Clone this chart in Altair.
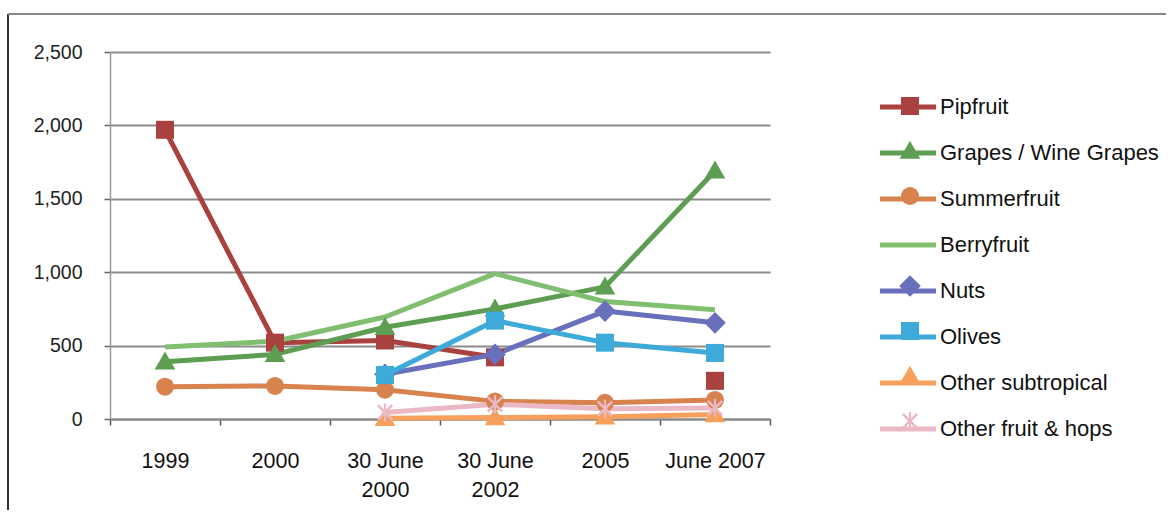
import altair as alt
import pandas as pd

# Survey dates along the x axis
CATEGORIES = ["1999", "2000", "30 June 2000", "30 June 2002", "2005", "June 2007"]

# Series (None = not surveyed)
SERIES = [
    "Pipfruit",
    "Grapes / Wine Grapes",
    "Summerfruit",
    "Berryfruit",
    "Nuts",
    "Olives",
    "Other subtropical",
    "Other fruit & hops",
]
pipfruit = [1970, 520, 535, 420, None, 260]
grapes = [390, 440, 625, 750, 900, 1690]
summerfruit = [220, 225, 200, 120, 110, 130]
berryfruit = [490, 530, 695, 990, 800, 745]
nuts = [None, None, 305, 440, 735, 655]
olives = [None, None, 300, 670, 520, 450]
other_subtropical = [None, None, 5, 10, 15, 30]
other_fruit_hops = [None, None, 45, 100, 70, 75]

VALUES = [pipfruit, grapes, summerfruit, berryfruit, nuts, olives,
          other_subtropical, other_fruit_hops]

COLORS = ["#A9413F", "#5E9E52", "#D8824E", "#80BF70",
          "#6870BC", "#3DAADA", "#F6A05C", "#EBB9C6"]

# Marker shapes; Berryfruit has none, Other fruit & hops is an asterisk
TRIANGLE = "M0,-1.15L1.15,0.85L-1.15,0.85Z"
DIAMOND = "M0,-1.2L1.2,0L0,1.2L-1.2,0Z"
ASTERISK = ("M-0.12,-1H0.12V1H-0.12Z"
            "M-0.7,-0.9L0.9,0.7L0.7,0.9L-0.9,-0.7Z"
            "M0.7,-0.9L0.9,-0.7L-0.7,0.9L-0.9,0.7Z")
SHAPES = ["square", TRIANGLE, "circle", "M0,0", DIAMOND, "square",
          TRIANGLE, ASTERISK]

rows = []
for name, vals in zip(SERIES, VALUES):
    for cat, v in zip(CATEGORIES, vals):
        rows.append({"series": name, "cat": cat, "value": v})
df = pd.DataFrame(rows)

FONT = "Liberation Sans, Arial, Helvetica, sans-serif"

x_enc = alt.X(
    "cat:N",
    sort=CATEGORIES,
    bandPosition=0.5,
    scale=alt.Scale(type="band", paddingInner=0, paddingOuter=0),
    axis=alt.Axis(
        title=None,
        labelAngle=0,
        tickBand="extent",
        tickSize=6,
        tickColor="#555",
        tickWidth=1.5,
        domainColor="#8a8a8a",
        domainWidth=2,
        labelFont=FONT,
        labelFontSize=21.5,
        labelColor="#111",
        labelPadding=25,
        labelLineHeight=29,
        labelBaseline="top",
        labelExpr="indexof(datum.label, '30 June') == 0 ? ['30 June', slice(datum.label, 8)] : datum.label",
    ),
)
y_enc = alt.Y(
    "value:Q",
    scale=alt.Scale(domain=[0, 2500], nice=False, zero=True),
    axis=alt.Axis(
        title=None,
        values=[0, 500, 1000, 1500, 2000, 2500],
        format=",d",
        tickSize=6,
        tickColor="#666",
        tickWidth=1.5,
        domainColor="#9a9a9a",
        domainWidth=1.5,
        gridColor="#8c8c8c",
        gridWidth=2,
        labelFont=FONT,
        labelFontSize=19.5,
        labelColor="#222",
        labelPadding=22,
    ),
)

base = alt.Chart(df).encode(x=x_enc, y=y_enc)

LEGEND_COMMON = dict(
    title=None,
    orient="none",
    legendY=43,
    labelFont=FONT,
    labelFontSize=22,
    rowPadding=23,
    padding=0,
    labelLimit=400,
)

# Line swatches: a long horizontal stroke per entry
lines = base.mark_line(strokeWidth=5, strokeJoin="round").encode(
    stroke=alt.Stroke(
        "series:N",
        sort=SERIES,
        scale=alt.Scale(range=COLORS),
        legend=alt.Legend(
            legendX=786,
            symbolType="M-3,0H3",
            symbolSize=350,
            symbolStrokeWidth=5,
            labelColor="#111",
            labelOffset=20,
            **LEGEND_COMMON,
        ),
    ),
)

# Marker swatches drawn over the line swatches (colour + shape in one legend,
# its labels left empty so only the symbols show)
marker_legend = alt.Legend(
    legendX=789,
    symbolSize=324,
    symbolStrokeWidth=0,
    symbolOpacity=1,
    labelExpr="''",
    labelOffset=2,
    **LEGEND_COMMON,
)

points = base.transform_calculate(name="datum.series").mark_point(
    filled=True, size=324, opacity=1, strokeWidth=0
).encode(
    color=alt.Color("name:N", scale=alt.Scale(domain=SERIES, range=COLORS),
                    legend=marker_legend),
    shape=alt.Shape("name:N", scale=alt.Scale(domain=SERIES, range=SHAPES),
                    legend=marker_legend),
)

# Outer frame of the figure
frame_src = alt.Chart(pd.DataFrame({"k": [0]}))
frame_left = frame_src.mark_rule(color="#333", strokeWidth=2).encode(
    x=alt.value(-102), y=alt.value(-38), y2=alt.value(458)
)
frame_top = frame_src.mark_rule(color="#888", strokeWidth=2).encode(
    x=alt.value(-102), x2=alt.value(1056), y=alt.value(-38)
)

chart = (
    alt.layer(frame_left, frame_top, lines, points)
    .properties(
        width=660,
        height=367,
        padding={"left": 7, "top": 13, "right": 0, "bottom": 0},
        background="white",
    )
    .configure_view(stroke=None)
)

chart.save("out.html", embed_options={"renderer": "svg", "actions": False})
